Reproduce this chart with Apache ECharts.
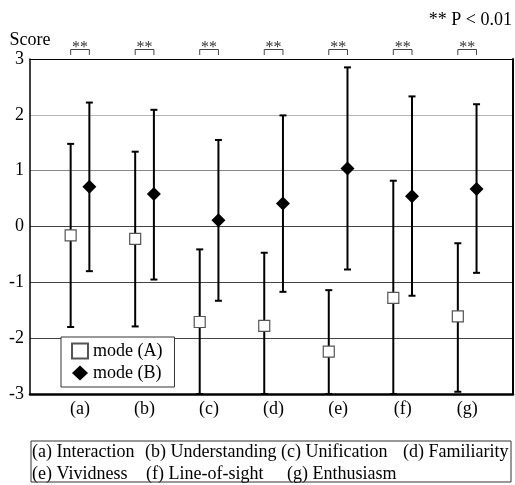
<!DOCTYPE html>
<html>
<head>
<meta charset="utf-8">
<script src="https://cdn.jsdelivr.net/npm/echarts@6/dist/echarts.min.js"></script>
<style>html,body{margin:0;padding:0;background:#fff;}#c{width:515px;height:485px;}</style>
</head>
<body>
<div id="c"></div>
<script>
var categories = ['(a)', '(b)', '(c)', '(d)', '(e)', '(f)', '(g)'];
var captionNames = ['(a) Interaction', '(b) Understanding', '(c) Unification', '(d) Familiarity',
                    '(e) Vividness', '(f) Line-of-sight', '(g) Enthusiasm'];
var meanA  = [-0.16, -0.22, -1.71, -1.78, -2.24, -1.28, -1.61];
var upperA = [ 1.48,  1.34, -0.41, -0.47, -1.14,  0.82, -0.30];
var lowerA = [-1.80, -1.79, -3.00, -3.00, -3.00, -3.00, -2.96];
var meanB  = [ 0.71,  0.58,  0.11,  0.41,  1.04,  0.54,  0.67];
var upperB = [ 2.22,  2.09,  1.55,  1.99,  2.85,  2.33,  2.19];
var lowerB = [-0.80, -0.95, -1.33, -1.17, -0.77, -1.24, -0.83];
var yTicks = [-3, -2, -1, 0, 1, 2, 3];
var sigLabel = '**';
var pNote = '** P < 0.01';

var OFF = 0.145;
var FONT = 'Liberation Serif';

function errData(mean, up, lo, off) {
  return categories.map(function (c, i) { return [i + 1 + off, up[i], lo[i]]; });
}
function ptData(mean, off) {
  return categories.map(function (c, i) { return [i + 1 + off, mean[i]]; });
}
function renderErr(params, api) {
  var x = api.value(0);
  var p1 = api.coord([x, api.value(1)]);
  var p2 = api.coord([x, api.value(2)]);
  var st = { stroke: '#000', lineWidth: 2 };
  return { type: 'group', children: [
    { type: 'line', shape: { x1: p1[0], y1: p1[1], x2: p2[0], y2: p2[1] }, style: st },
    { type: 'line', shape: { x1: p1[0] - 3.5, y1: p1[1], x2: p1[0] + 3.5, y2: p1[1] }, style: st },
    { type: 'line', shape: { x1: p2[0] - 3.5, y1: p2[1], x2: p2[0] + 3.5, y2: p2[1] }, style: st }
  ]};
}
function renderSig(params, api) {
  var x = api.value(0);
  var a = api.coord([x - OFF, 3]);
  var b = api.coord([x + OFF, 3]);
  var top = a[1] - 9.5, bot = a[1] - 4;
  return { type: 'group', children: [
    { type: 'polyline', shape: { points: [[a[0], bot], [a[0], top], [b[0], top], [b[0], bot]] },
      style: { stroke: '#444', lineWidth: 1, fill: null } },
    { type: 'text', style: { text: sigLabel, x: (a[0] + b[0]) / 2, y: top - 1.5, align: 'center', verticalAlign: 'middle',
      font: '16px "' + FONT + '"', fill: '#333' } }
  ]};
}

var captionGraphics = [
  { type: 'rect', shape: { x: 31, y: 441, width: 480, height: 41 }, style: { stroke: '#333', lineWidth: 1, fill: 'none' } }
];
var capPos = [[32, 452], [145, 452], [281, 452], [403, 452], [32, 474], [146, 474], [287, 474]];
captionNames.forEach(function (t, i) {
  captionGraphics.push({ type: 'text', x: capPos[i][0], y: capPos[i][1],
    style: { text: t, font: '18px "' + FONT + '"', fill: '#000', verticalAlign: 'middle' } });
});
captionGraphics.push({ type: 'text', right: 3, top: 11, style: { text: pNote, font: '18px "' + FONT + '"', fill: '#000' } });

var chart = echarts.init(document.getElementById('c'), null, { renderer: 'canvas' });
chart.setOption({
  animation: false,
  backgroundColor: '#fff',
  grid: { left: 30, right: 2, top: 59, bottom: 91 },
  xAxis: [
    { type: 'value', min: 0.225, max: 7.71, position: 'bottom',
      axisLine: { show: true, onZero: false, lineStyle: { color: '#000', width: 2.5 } },
      axisTick: { show: false }, splitLine: { show: false },
      axisLabel: { customValues: [1, 2, 3, 4, 5, 6, 7], formatter: function (v) { return categories[Math.round(v) - 1]; },
        fontFamily: FONT, fontSize: 18, color: '#000', margin: 6 } },
    { type: 'value', min: 0.225, max: 7.71, position: 'top',
      axisLine: { show: true, onZero: false, lineStyle: { color: '#000', width: 1 } },
      axisTick: { show: false }, axisLabel: { show: false }, splitLine: { show: false } }
  ],
  yAxis: [
    { type: 'value', min: -3, max: 3, interval: 1, position: 'left',
      name: 'Score', nameLocation: 'end', nameGap: 19,
      nameTextStyle: { fontFamily: FONT, fontSize: 18, color: '#000', align: 'center', verticalAlign: 'middle' },
      axisLine: { show: true, onZero: false, lineStyle: { color: '#000', width: 1.5 } },
      axisTick: { show: false },
      axisLabel: { fontFamily: FONT, fontSize: 18, color: '#000', margin: 6,
        customValues: yTicks, formatter: function (v) { return String(v); } },
      splitLine: { show: true, lineStyle: { width: 1, color: ['#000', '#444', '#444', '#444', '#888', '#b5b5b5', '#000'] } } },
    { type: 'value', min: -3, max: 3, interval: 1, position: 'right',
      axisLine: { show: true, onZero: false, lineStyle: { color: '#000', width: 2 } },
      axisTick: { show: false }, axisLabel: { show: false }, splitLine: { show: false } }
  ],
  legend: {
    left: 61, top: 337, orient: 'vertical',
    backgroundColor: '#fff', borderColor: '#333', borderWidth: 1,
    padding: [5, 12, 5, 10], itemGap: 4, itemWidth: 16, itemHeight: 15,
    textStyle: { fontFamily: FONT, fontSize: 18, color: '#000' },
    data: ['mode (A)', 'mode (B)']
  },
  series: [
    { type: 'custom', name: 'errA', renderItem: renderErr, data: errData(meanA, upperA, lowerA, -OFF), z: 2, silent: true },
    { type: 'custom', name: 'errB', renderItem: renderErr, data: errData(meanB, upperB, lowerB, OFF), z: 2, silent: true },
    { type: 'custom', name: 'sig', renderItem: renderSig, data: categories.map(function (c, i) { return [i + 1]; }), clip: false, z: 2, silent: true },
    { type: 'scatter', name: 'mode (A)', data: ptData(meanA, -OFF), symbol: 'rect', symbolSize: 11,
      itemStyle: { color: '#fff', borderColor: '#555', borderWidth: 1.2, opacity: 1 }, z: 5 },
    { type: 'scatter', name: 'mode (B)', data: ptData(meanB, OFF), symbol: 'diamond', symbolSize: 14,
      itemStyle: { color: '#000', opacity: 1 }, z: 5 }
  ],
  graphic: captionGraphics
});
</script>
</body>
</html>
